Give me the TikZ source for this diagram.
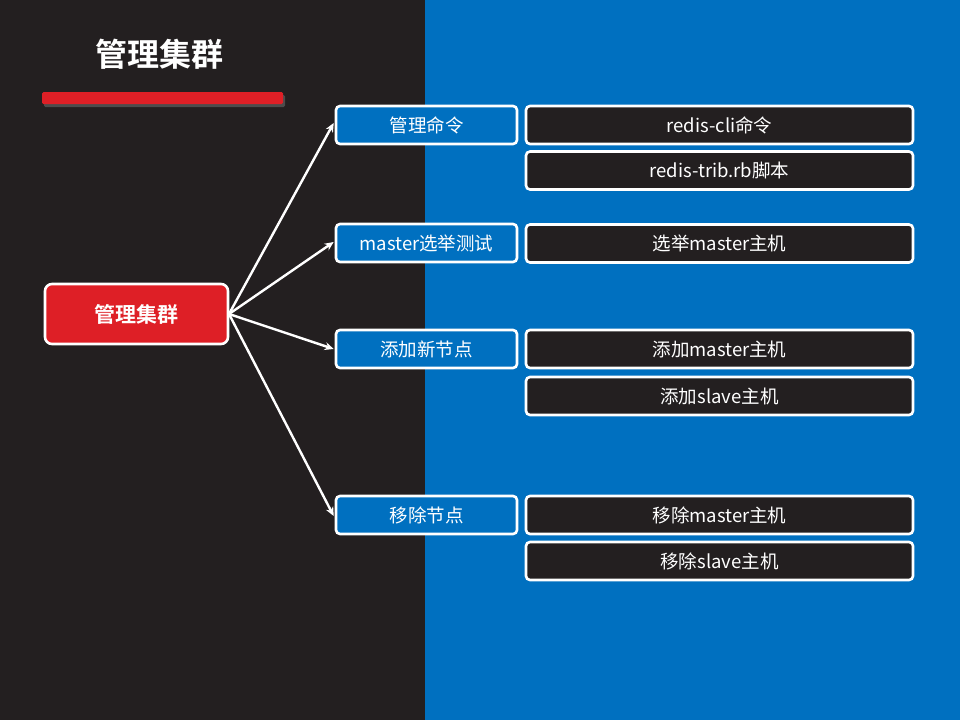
\documentclass[tikz,border=0pt]{standalone}
\usepackage{fontspec}
\setmainfont{Noto Sans CJK SC}[BoldFont={Noto Sans CJK SC Bold}]
\usetikzlibrary{arrows.meta}
\definecolor{darkbg}{HTML}{231F20}
\definecolor{bluebg}{HTML}{0070C0}
\definecolor{redc}{HTML}{DE1F26}
\tikzset{
  basebox/.style={draw=white, line width=2.6pt, rounded corners=4pt, text=white, inner sep=0pt, font=\fontsize{18.5}{21}\selectfont},
  catbox/.style={basebox, fill=bluebg, minimum width=181pt, minimum height=38pt},
  leafbox/.style={basebox, fill=darkbg, minimum width=387pt, minimum height=38pt},
  rootbox/.style={basebox, fill=redc, minimum width=183pt, minimum height=60pt, rounded corners=7pt, font=\bfseries\fontsize{21}{24}\selectfont},
  conn/.style={draw=white, line width=2.4pt, -{Stealth[length=9pt,width=8pt]}}
}
\begin{document}
\begin{tikzpicture}[x=1pt,y=-1pt]
\useasboundingbox (0,0) rectangle (960,720);
\fill[darkbg] (0,0) rectangle (425,720);
\fill[bluebg] (425,0) rectangle (960,720);
% title
\node[text=white, font=\bfseries\fontsize{32}{36}\selectfont] (title) at (159,54) {管理集群};
\fill[black!70, rounded corners=1.5pt] (44,95) rectangle (285,107);
\fill[redc, rounded corners=1.5pt] (42,92) rectangle (283,104);
% root
\node[rootbox] (root) at (136.5,314) {管理集群};
% categories
\node[catbox] (c1) at (426.5,125) {管理命令};
\node[catbox] (c2) at (426.5,243) {master选举测试};
\node[catbox] (c3) at (426.5,349) {添加新节点};
\node[catbox] (c4) at (426.5,515) {移除节点};
% leaves
\node[leafbox] (l1) at (719.5,125) {redis-cli命令};
\node[leafbox] (l2) at (719.5,170.5) {redis-trib.rb脚本};
\node[leafbox] (l3) at (719.5,243.5) {选举master主机};
\node[leafbox] (l4) at (719.5,349) {添加master主机};
\node[leafbox] (l5) at (719.5,396) {添加slave主机};
\node[leafbox] (l6) at (719.5,515) {移除master主机};
\node[leafbox] (l7) at (719.5,561) {移除slave主机};
% connectors
\coordinate (src) at (229,314);
\draw[conn] (src) -- ([xshift=-1pt,yshift=2pt]c1.west);
\draw[conn] (src) -- ([xshift=-1pt,yshift=1pt]c2.west);
\draw[conn] (src) -- ([xshift=-1pt]c3.west);
\draw[conn] (src) -- ([xshift=-1pt,yshift=-1pt]c4.west);
\end{tikzpicture}
\end{document}
